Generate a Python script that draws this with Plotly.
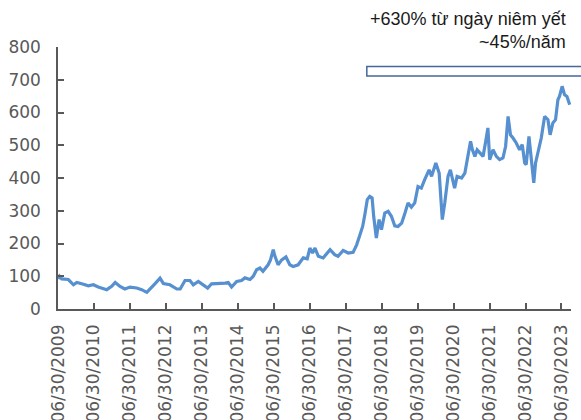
import plotly.graph_objects as go

dates = [
    "2009-06-30", "2009-07-15", "2009-08-07", "2009-10-13", "2009-12-04", "2010-01-07", "2010-02-26",
    "2010-05-04", "2010-06-24", "2010-08-13", "2010-11-07", "2010-12-27", "2011-02-01", "2011-03-22",
    "2011-05-10", "2011-07-01", "2011-09-07", "2011-10-28", "2011-12-19", "2012-02-07", "2012-03-10",
    "2012-05-01", "2012-06-04", "2012-08-10", "2012-10-19", "2012-11-22", "2013-01-10", "2013-03-01",
    "2013-04-04", "2013-05-25", "2013-07-13", "2013-08-28", "2013-10-07", "2013-12-13", "2014-02-22",
    "2014-03-25", "2014-04-28", "2014-06-19", "2014-08-07", "2014-09-10", "2014-11-01", "2014-12-04",
    "2015-01-07", "2015-02-10", "2015-03-13", "2015-05-04", "2015-05-28", "2015-06-25", "2015-07-10",
    "2015-08-13", "2015-09-19", "2015-11-01", "2015-12-10", "2016-01-13", "2016-03-04", "2016-04-25",
    "2016-06-04", "2016-07-01", "2016-07-28", "2016-08-22", "2016-09-25", "2016-11-13", "2017-01-22",
    "2017-03-10", "2017-04-13", "2017-06-04", "2017-07-25", "2017-09-13", "2017-10-19", "2017-11-22",
    "2017-12-19", "2018-01-10", "2018-02-04", "2018-03-01", "2018-03-25", "2018-04-10", "2018-05-07",
    "2018-06-04", "2018-06-28", "2018-08-01", "2018-09-04", "2018-10-07", "2018-11-10", "2018-12-13",
    "2019-01-19", "2019-02-22", "2019-03-25", "2019-04-28", "2019-06-01", "2019-07-04", "2019-08-07",
    "2019-09-10", "2019-10-25", "2019-11-19", "2019-12-10", "2020-01-01", "2020-02-04", "2020-02-22",
    "2020-03-07", "2020-04-01", "2020-05-04", "2020-05-28", "2020-06-19", "2020-07-10", "2020-08-04",
    "2020-09-19", "2020-10-22", "2020-11-25", "2020-12-19", "2021-01-07", "2021-02-01", "2021-02-24",
    "2021-03-22", "2021-04-25", "2021-05-22", "2021-06-13", "2021-07-01", "2021-08-04", "2021-09-07",
    "2021-10-10", "2021-11-13", "2021-12-10", "2022-01-04", "2022-01-28", "2022-02-23", "2022-03-28",
    "2022-05-01", "2022-05-28", "2022-06-22", "2022-07-07", "2022-08-04", "2022-08-28", "2022-09-22",
    "2022-10-10", "2022-11-04", "2022-12-07", "2023-01-10", "2023-02-13", "2023-03-07", "2023-04-04",
    "2023-05-01", "2023-05-25", "2023-06-10", "2023-07-07", "2023-08-01", "2023-08-25", "2023-09-22",
]

prices = [
    92, 100, 92, 90, 74, 81, 77,
    71, 74, 67, 59, 69, 81, 69,
    61, 67, 64, 59, 51, 69, 77,
    94, 78, 74, 61, 61, 87, 87,
    74, 84, 74, 64, 77, 77, 79,
    81, 67, 84, 87, 95, 90, 100,
    120, 125, 115, 135, 150, 181, 163,
    135, 150, 159, 135, 130, 135, 156,
    153, 186, 171, 186, 161, 156, 181,
    166, 161, 179, 171, 173, 196, 227,
    252, 288, 334, 344, 339, 283, 217,
    273, 242, 293, 298, 283, 254, 252,
    262, 293, 324, 311, 324, 374, 369,
    395, 425, 405, 425, 446, 415, 344,
    273, 324, 405, 425, 395, 369, 405,
    400, 415, 466, 512, 486, 466, 486,
    476, 466, 512, 553, 456, 486, 466,
    456, 461, 497, 588, 532, 522, 507,
    486, 502, 446, 441, 527, 466, 385,
    446, 476, 522, 588, 578, 532, 568,
    578, 639, 649, 680, 654, 649, 624,
]

tick_dates = [f"{y}-06-30" for y in range(2009, 2024)]
tick_labels = [f"06/30/{y}" for y in range(2009, 2024)]
y_ticks = [0, 100, 200, 300, 400, 500, 600, 700, 800]

annotation_text = "+630% từ ngày niêm yết<br>~45%/năm"

fig = go.Figure()
fig.add_trace(go.Scatter(
    x=dates, y=prices, mode="lines",
    line=dict(color="#5690D0", width=3.2),
    showlegend=False, hoverinfo="skip",
))

axis_font = dict(family="DejaVu Sans, Verdana, sans-serif", size=17, color="#595959")

fig.update_layout(
    width=581, height=420,
    margin=dict(l=58, r=10, t=47, b=111, autoexpand=False),
    paper_bgcolor="white", plot_bgcolor="white",
    xaxis=dict(
        type="date",
        range=["2009-06-30", "2023-10-05"],
        tickvals=tick_dates, ticktext=tick_labels,
        tickangle=-90, tickfont=axis_font,
        showgrid=False, zeroline=False, automargin=False,
        showline=True, linecolor="#595959", linewidth=1.5,
        ticks="inside", ticklen=6, tickcolor="#595959", tickwidth=1.5,
        ticklabelstandoff=7,
    ),
    yaxis=dict(
        range=[0, 800],
        tickvals=y_ticks,
        tickfont=axis_font,
        showgrid=False, zeroline=False, automargin=False,
        showline=True, linecolor="#595959", linewidth=1.5,
        ticks="inside", ticklen=6, tickcolor="#595959", tickwidth=1.5,
        ticklabelstandoff=12,
    ),
    annotations=[dict(
        xref="paper", yref="paper", x=0.994, y=1.063,
        xanchor="right", yanchor="middle", align="right",
        text=annotation_text, showarrow=False,
        font=dict(family="Liberation Sans, Arial, sans-serif", size=18, color="#1a1a1a"),
    )],
    shapes=[dict(
        type="rect", xref="paper", yref="paper",
        x0=0.602, x1=1.05, y0=0.889, y1=0.926,
        line=dict(color="#44689A", width=1.5), fillcolor="white",
    )],
)

fig.write_html(
    "out.html",
    config={"displayModeBar": False},
    post_script="document.body.style.margin='0';document.body.style.overflow='hidden';",
)
